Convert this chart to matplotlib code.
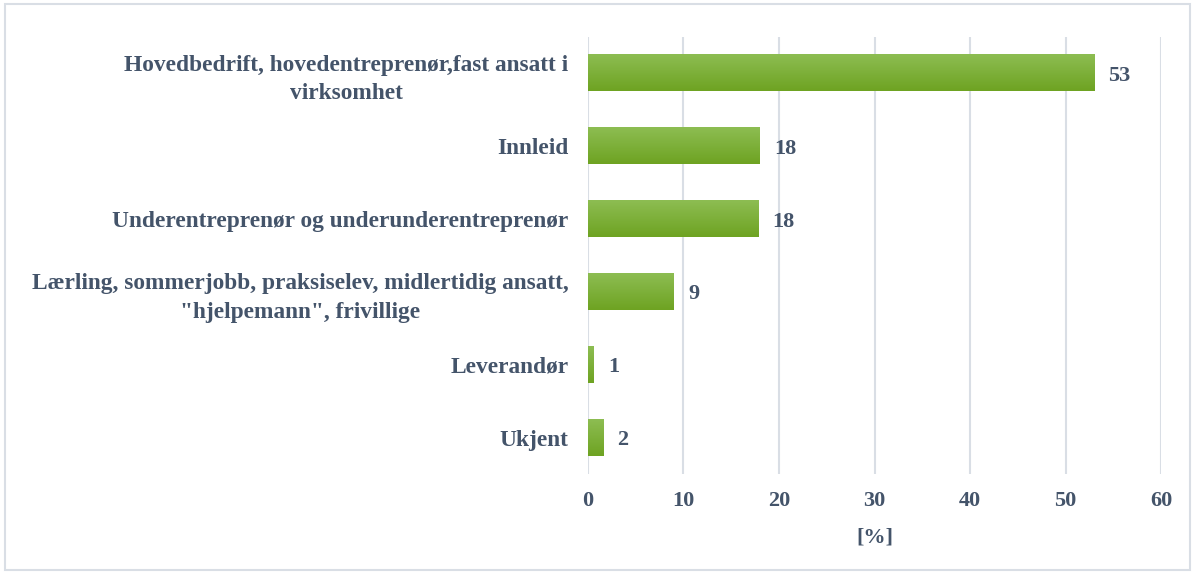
import numpy as np
import matplotlib
matplotlib.use("Agg")
import matplotlib.pyplot as plt
from matplotlib.patches import Rectangle

# data (top to bottom)
categories = [
    "Hovedbedrift, hovedentreprenør,fast ansatt i\nvirksomhet",
    "Innleid",
    "Underentreprenør og underunderentreprenør",
    "Lærling, sommerjobb, praksiselev, midlertidig ansatt,\n\"hjelpemann\", frivillige",
    "Leverandør",
    "Ukjent",
]
values = [53, 18, 17.8, 9, 0.6, 1.6]
xticks = [0, 10, 20, 30, 40, 50, 60]

TEXT = "#44546A"
GRID = "#D9DEE5"
FS = 16
plt.rcParams["font.family"] = ["Liberation Serif", "DejaVu Serif"]
plt.rcParams["font.weight"] = "bold"

fig = plt.figure(figsize=(11.96, 5.75), dpi=100)
ax = fig.add_axes([0.4916, 0.1748, 0.4792, 0.7617])

# light frame around the whole chart
fig.patches.append(Rectangle((0.004, 0.008), 0.991, 0.985, transform=fig.transFigure,
                             fill=False, edgecolor=GRID, lw=1.5))

y = np.arange(len(categories))
bars = ax.barh(y, values, height=0.5, color="none", zorder=2)

# vertical gradient fill for each bar (lighter on top)
grad = np.linspace(0, 1, 64).reshape(-1, 1)
cmap = matplotlib.colors.LinearSegmentedColormap.from_list("g", ["#6EA322", "#8DBD52"])
for b in bars:
    x0, y0 = b.get_x(), b.get_y()
    w, h = b.get_width(), b.get_height()
    ax.imshow(grad, cmap=cmap, aspect="auto", extent=(x0, x0 + w, y0 + h, y0),
              origin="lower", zorder=2)

for b, v in zip(bars, values):
    ax.text(b.get_width() + 1.5, b.get_y() + b.get_height() / 2, f"{round(v)}",
            va="center_baseline", ha="left", fontsize=FS, color=TEXT, fontweight="bold")

ax.set_ylim(len(categories) - 0.5, -0.5)
ax.set_xlim(0, 60)
ax.set_xticks(xticks)
ax.set_yticks(y)
ax.set_yticklabels(categories, multialignment="center", linespacing=1.45)
ax.tick_params(axis="both", length=0, colors=TEXT, labelsize=FS)
ax.tick_params(axis="y", pad=14, labelsize=16.8)
ax.tick_params(axis="x", pad=12)
for s in ax.spines.values():
    s.set_visible(False)
ax.grid(axis="x", color=GRID, lw=1.5, zorder=0)
ax.set_axisbelow(True)
ax.set_xlabel("[%]", color=TEXT, fontsize=FS, fontweight="bold", labelpad=12)

fig.savefig("out.png", dpi=100)
